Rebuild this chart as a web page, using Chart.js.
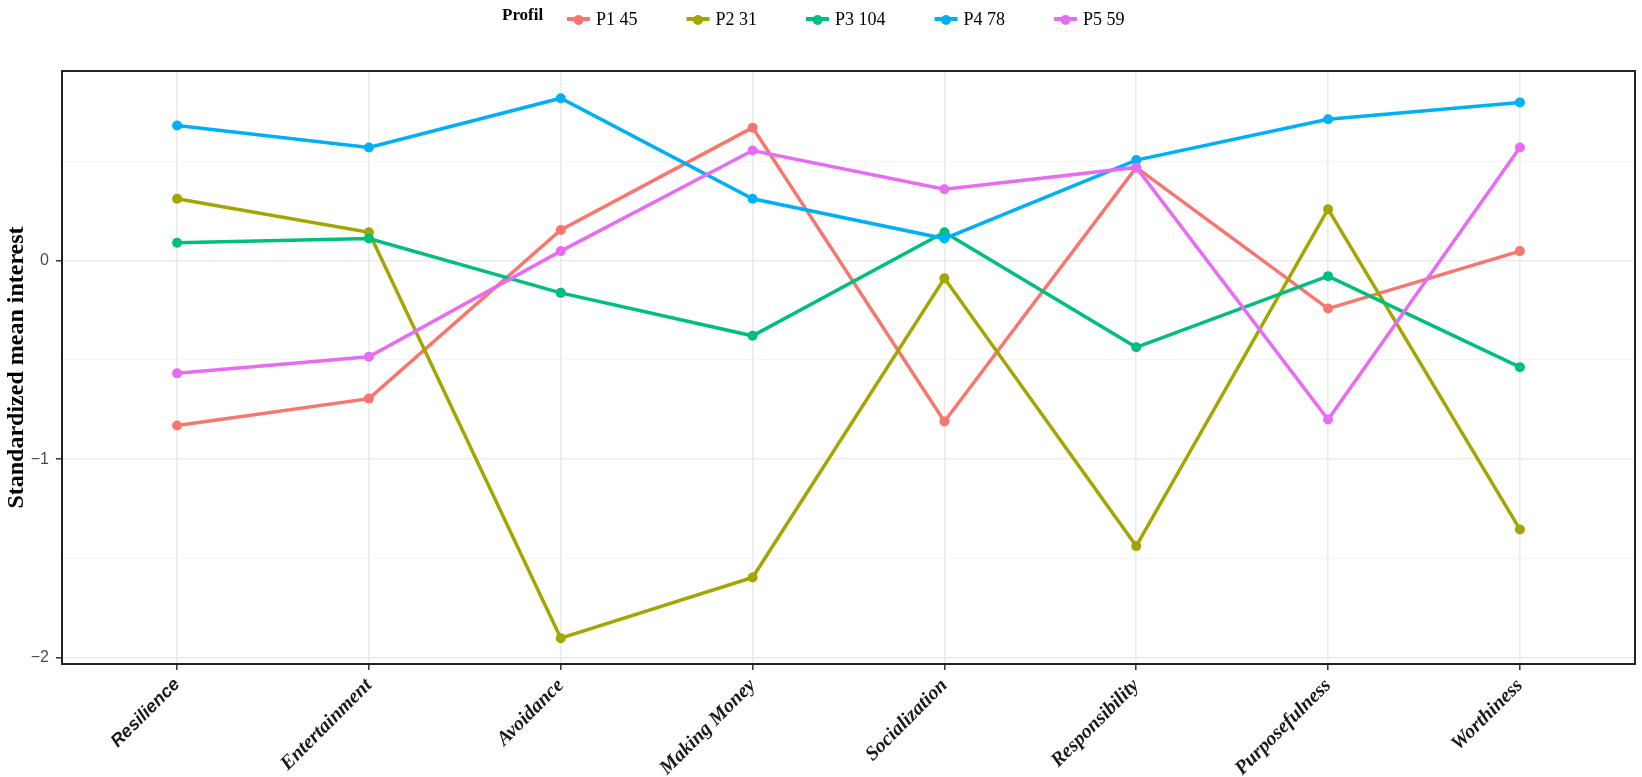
<!DOCTYPE html>
<html>
<head>
<meta charset="utf-8">
<script src="https://cdn.jsdelivr.net/npm/chart.js@4"></script>
<style>
  html, body { margin: 0; padding: 0; background: #fff; }
  #wrap { width: 1642px; height: 777px; position: relative; }
</style>
</head>
<body>
<div id="wrap"><canvas id="profileChart"></canvas></div>
<script>
// Data
////////////////////////////////////////////////
const categories = ["Resilience", "Entertainment", "Avoidance", "Making Money",
                    "Socialization", "Responsibility", "Purposefulness", "Worthiness"];

const seriesNames = ["P1 45", "P2 31", "P3 104", "P4 78", "P5 59"];

const p1 = [-0.83, -0.695, 0.153, 0.668, -0.81, 0.468, -0.242, 0.047];
const p2 = [0.31, 0.142, -1.90, -1.595, -0.09, -1.437, 0.258, -1.353];
const p3 = [0.089, 0.11, -0.163, -0.379, 0.142, -0.437, -0.079, -0.537];
const p4 = [0.679, 0.568, 0.816, 0.31, 0.11, 0.505, 0.71, 0.795];
const p5 = [-0.568, -0.484, 0.047, 0.553, 0.358, 0.468, -0.80, 0.568];

const yTicks = [-2, -1.5, -1, -0.5, 0, 0.5];

// Styles
////////////////////////////////////////////////
const colours = ["#F8766D", "#A3A500", "#00BF7D", "#00B0F6", "#E76BF3"];
const serif = "'Liberation Serif', 'Times New Roman', serif";
const sans = "'Liberation Sans', Arial, sans-serif";

function makeDataset(values, index) {
    return {
        label: seriesNames[index],
        data: values.map((v, i) => ({ x: i, y: v })),
        borderColor: colours[index],
        backgroundColor: colours[index],
        pointBackgroundColor: colours[index],
        pointBorderWidth: 0,
        pointRadius: 5,
        pointHoverRadius: 5,
        borderWidth: 3.5,
        tension: 0,
        order: 5 - index
    };
}

const isMajor = v => Math.abs(v - Math.round(v)) < 1e-9;

// panel border + legend drawn on top, ggplot style
const ggExtras = {
    id: 'ggExtras',
    afterDraw(chart) {
        const ctx = chart.ctx;
        const a = chart.chartArea;
        ctx.save();
        ctx.strokeStyle = '#222';
        ctx.lineWidth = 2;
        ctx.strokeRect(a.left, a.top, a.right - a.left, a.bottom - a.top);

        // legend
        const ly = 19;
        ctx.textBaseline = 'middle';
        ctx.textAlign = 'left';
        ctx.fillStyle = '#000';
        ctx.font = "bold 17px " + serif;
        ctx.fillText("Profil", 502, ly - 3);
        let x = 567;
        chart.data.datasets.forEach(ds => {
            ctx.strokeStyle = ds.borderColor;
            ctx.lineWidth = 4;
            ctx.beginPath();
            ctx.moveTo(x, ly);
            ctx.lineTo(x + 23, ly);
            ctx.stroke();
            ctx.fillStyle = ds.borderColor;
            ctx.beginPath();
            ctx.arc(x + 11.5, ly + 1, 5, 0, Math.PI * 2);
            ctx.fill();
            ctx.fillStyle = '#000';
            ctx.font = "18px " + serif;
            ctx.fillText(ds.label, x + 29, ly + 1);
            x += 29 + ctx.measureText(ds.label).width + 49;
        });
        ctx.restore();
    }
};

const config = {
    type: 'line',
    data: {
        datasets: [p1, p2, p3, p4, p5].map(makeDataset)
    },
    options: {
        responsive: true,
        maintainAspectRatio: false,
        animation: false,
        layout: { padding: { top: 71, right: 7, left: 0, bottom: 0 } },
        plugins: {
            legend: { display: false },
            tooltip: { enabled: false }
        },
        scales: {
            x: {
                type: 'linear',
                min: -0.6,
                max: 7.6,
                afterBuildTicks: scale => {
                    scale.ticks = categories.map((c, i) => ({ value: i }));
                },
                afterFit: scale => { scale.height = 113; },
                border: { display: false },
                grid: {
                    color: '#EBEBEB',
                    lineWidth: 1.6,
                    tickColor: '#333',
                    tickLength: 6,
                    tickWidth: 1.5
                },
                ticks: {
                    autoSkip: false,
                    maxRotation: 45,
                    minRotation: 45,
                    padding: 4,
                    color: '#1a1a1a',
                    font: ctx => ({
                        family: ctx.index === 0 ? sans : serif,
                        size: ctx.index === 0 ? 18 : 20,
                        weight: 'bold',
                        style: 'italic'
                    }),
                    callback: value => categories[value]
                }
            },
            y: {
                type: 'linear',
                min: -2.03,
                max: 0.953,
                afterBuildTicks: scale => {
                    scale.ticks = yTicks.map(v => ({ value: v }));
                },
                afterFit: scale => { scale.width = 62; },
                border: { display: false },
                grid: {
                    color: ctx => isMajor(ctx.tick.value) ? '#EBEBEB' : '#F4F4F4',
                    lineWidth: ctx => isMajor(ctx.tick.value) ? 1.6 : 1,
                    tickColor: ctx => isMajor(ctx.tick.value) ? '#333' : 'rgba(0,0,0,0)',
                    tickLength: 6,
                    tickWidth: 1.5
                },
                ticks: {
                    padding: 7,
                    color: '#4D4D4D',
                    font: { family: sans, size: 16 },
                    callback: value => isMajor(value) ? String(Math.round(value)).replace('-', '\u2212') : ''
                },
                title: {
                    display: true,
                    text: 'Standardized mean interest',
                    color: '#000',
                    font: { family: serif, size: 24, weight: 'bold' },
                    padding: { top: 2, bottom: 0 }
                }
            }
        }
    },
    plugins: [ggExtras]
};

const profileChart = new Chart(document.getElementById('profileChart'), config);
</script>
</body>
</html>
